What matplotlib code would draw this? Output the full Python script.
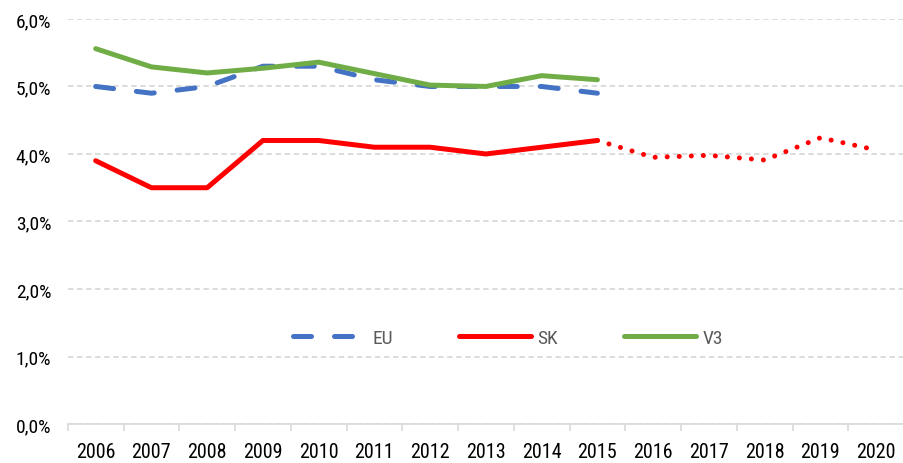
import matplotlib.pyplot as plt
from matplotlib.ticker import FuncFormatter

years = [str(y) for y in range(2006, 2021)]

eu = [5.0, 4.9, 5.0, 5.3, 5.3, 5.1, 5.0, 5.0, 5.0, 4.9]
sk = [3.9, 3.5, 3.5, 4.2, 4.2, 4.1, 4.1, 4.0, 4.1, 4.2]
v3 = [5.56, 5.29, 5.2, 5.27, 5.36, 5.19, 5.02, 5.0, 5.16, 5.1]
# forecast for SK, starting from the last actual year (2015)
sk_forecast = [4.2, 3.95, 3.98, 3.91, 4.24, 4.06]

plt.rcParams['font.family'] = ['Roboto Condensed', 'Liberation Sans', 'DejaVu Sans']

fig = plt.figure(figsize=(9.04, 4.64), dpi=100)
ax = fig.add_axes([0.075, 0.084, 0.925, 0.873])

x_act = list(range(len(eu)))
x_fc = list(range(len(eu) - 1, len(years)))

ax.plot(x_act, eu, color="#4472c4", lw=3.6, linestyle=(0, (3.6, 4.6)),
        dash_capstyle="round", label="EU", zorder=3)
ax.plot(x_act, sk, color="#ff0000", lw=3.6, solid_capstyle="round",
        solid_joinstyle="round", label="SK", zorder=3)
ax.plot(x_fc, sk_forecast, color="#ff0000", lw=3.6, linestyle=(0, (0.01, 2.4)),
        dash_capstyle="round", zorder=3)
ax.plot(x_act, v3, color="#70ad47", lw=3.6, solid_capstyle="round",
        solid_joinstyle="round", label="V3", zorder=4)

ax.set_xlim(-0.5, len(years) - 0.5)
ax.set_ylim(0, 6)
ax.set_yticks([0, 1, 2, 3, 4, 5, 6])
ax.yaxis.set_major_formatter(FuncFormatter(lambda v, p: f"{v:.1f}%".replace(".", ",")))
ax.set_xticks(range(len(years)))
ax.set_xticklabels(years)
ax.set_xticks([i - 0.5 for i in range(len(years) + 1)], minor=True)

ax.grid(axis="y", color="#d9d9d9", linestyle=(0, (3, 2)), lw=1.3, zorder=0)
for s in ["top", "right", "left"]:
    ax.spines[s].set_visible(False)
ax.spines["bottom"].set_color("#d9d9d9")
ax.spines["bottom"].set_linewidth(1.2)

ax.tick_params(axis="y", length=0, labelsize=14, pad=12, colors="#000000")
ax.tick_params(axis="x", which="major", length=0, labelsize=14.5, pad=13)
ax.tick_params(axis="x", which="minor", length=5, color="#d9d9d9", width=1.2)

leg = ax.legend(loc="center", bbox_to_anchor=(0.527, 0.212), ncol=3, frameon=False,
                fontsize=14, handlelength=3.7, columnspacing=3.4, handletextpad=0.35)
for t in leg.get_texts():
    t.set_color("#595959")

fig.savefig("out.png", dpi=100)
